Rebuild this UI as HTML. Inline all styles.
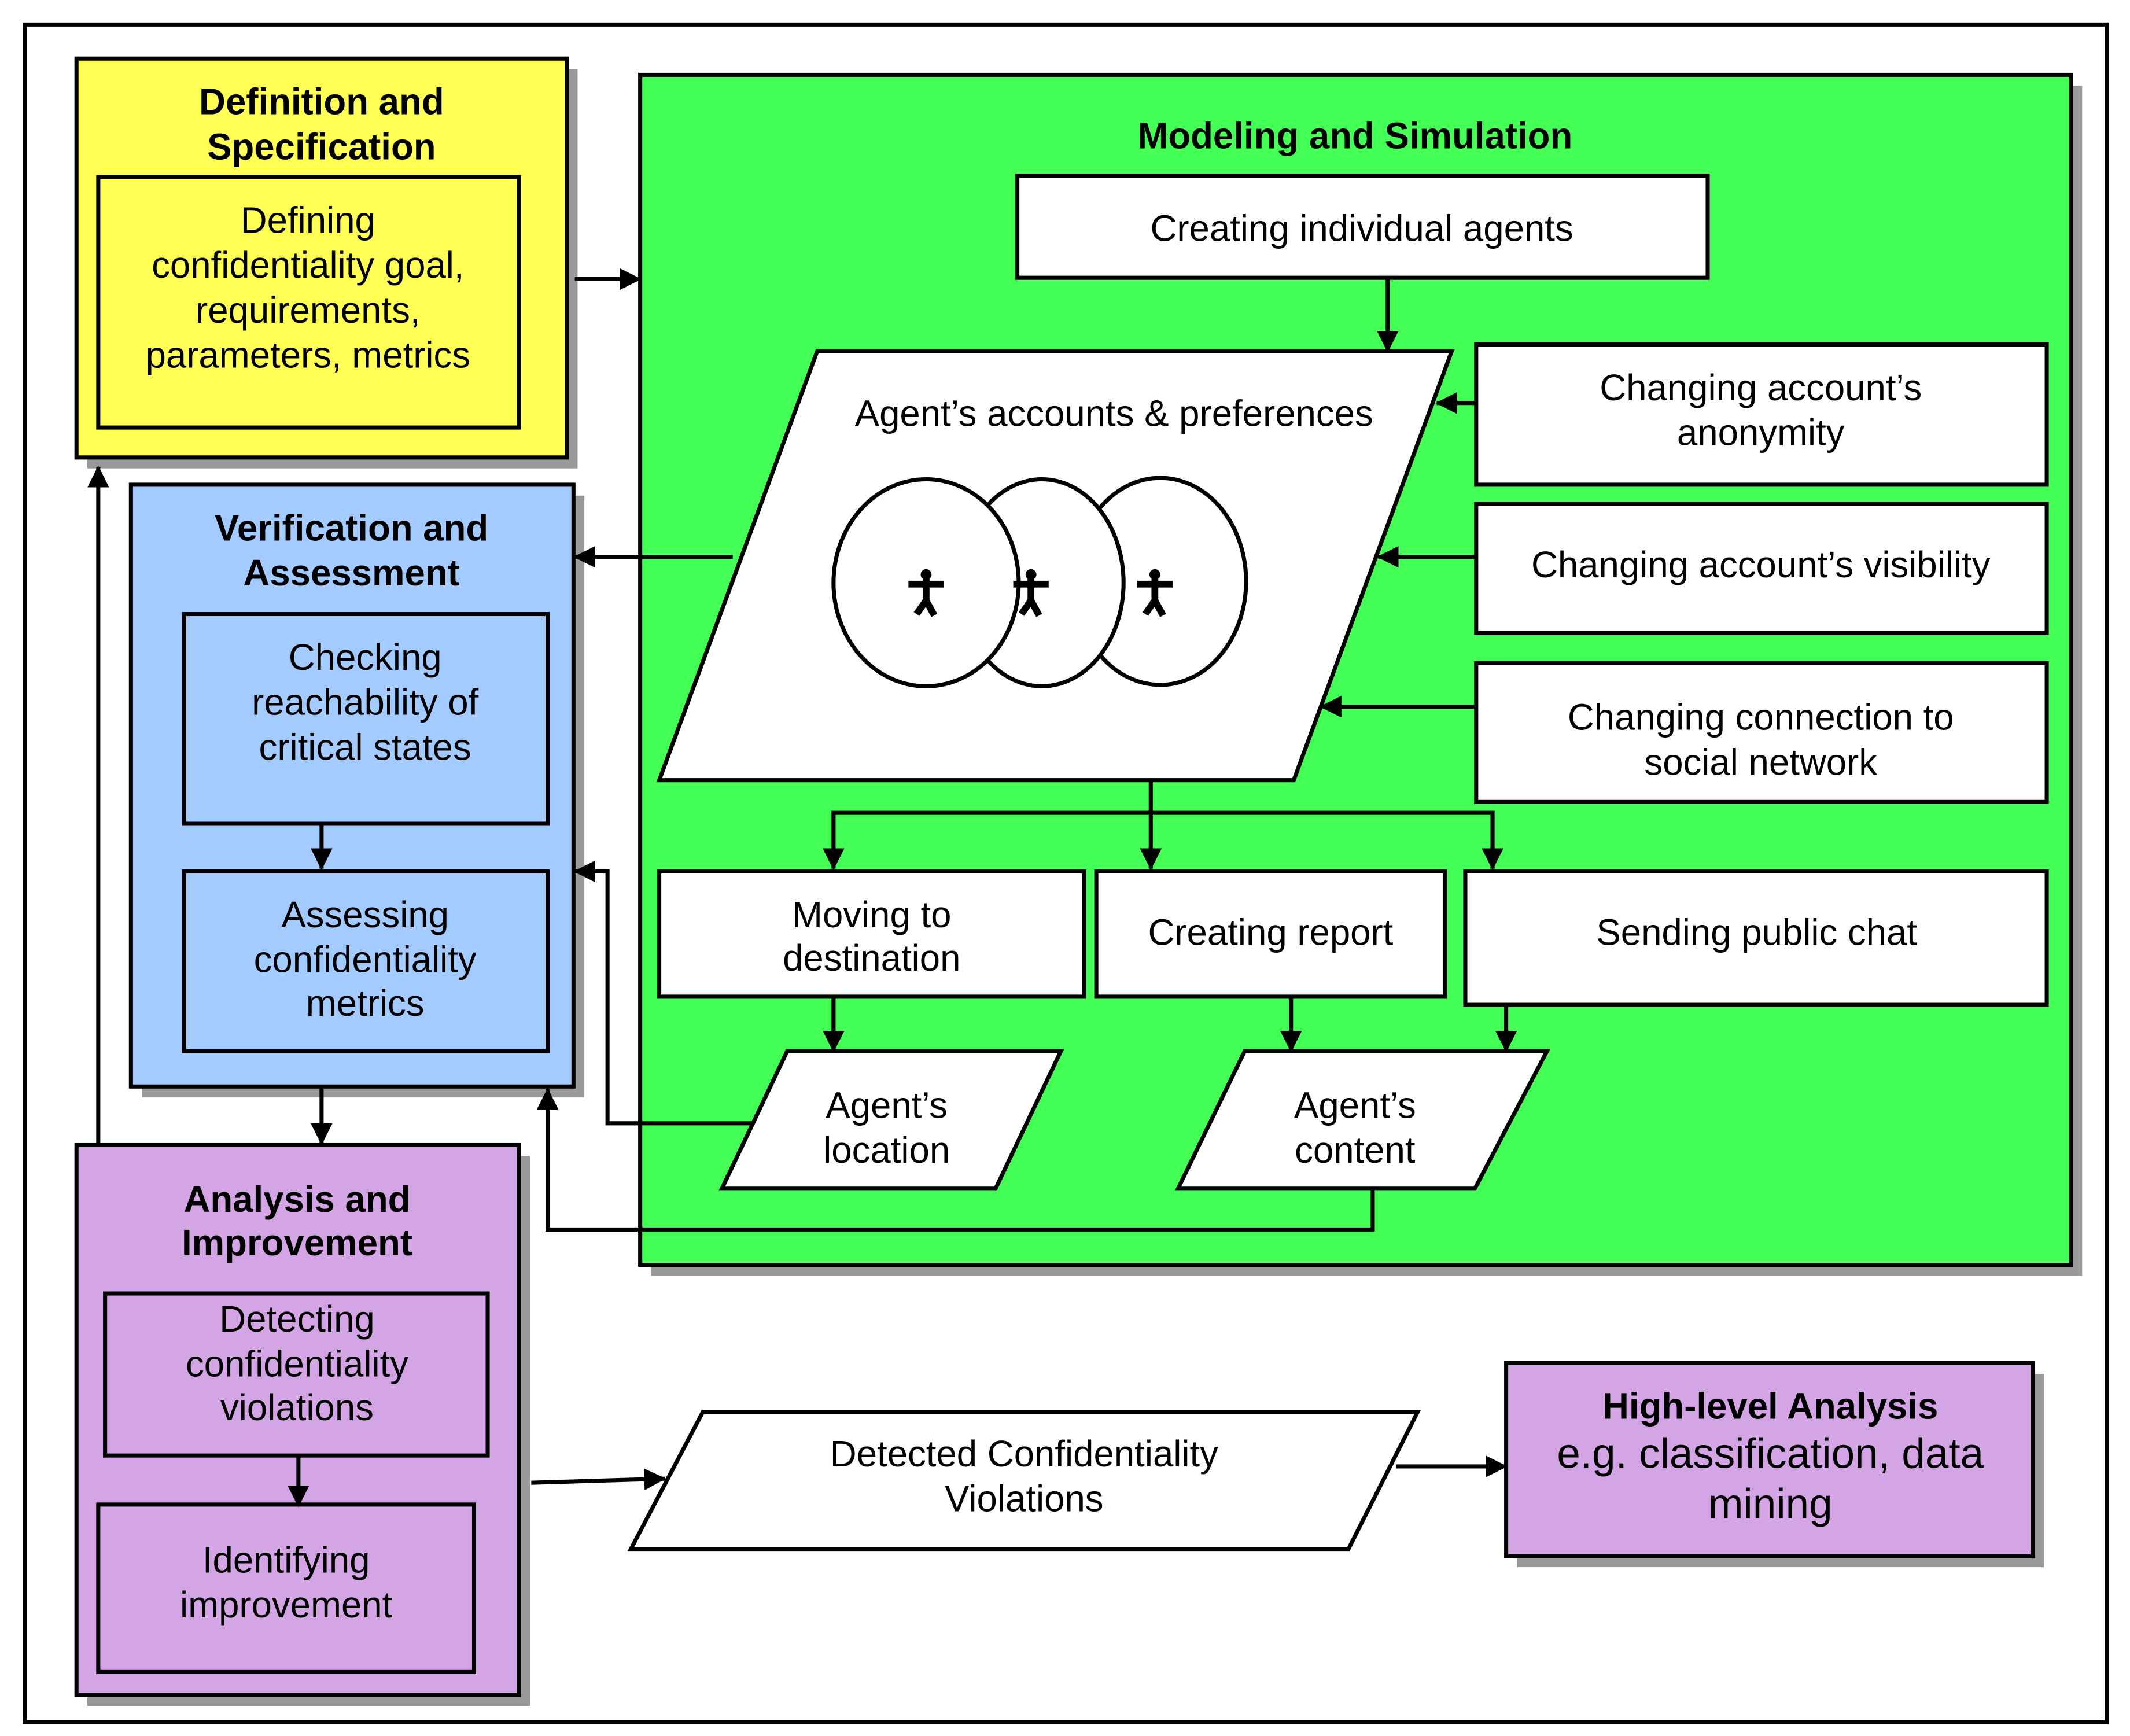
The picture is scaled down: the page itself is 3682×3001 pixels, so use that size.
<!DOCTYPE html>
<html><head><meta charset="utf-8"><style>
html,body{margin:0;padding:0;background:#fff;}
svg{display:block;}
text{font-family:"Liberation Sans",sans-serif;font-size:27px;fill:#000;text-anchor:middle;}
.b{font-weight:bold;}
</style></head><body>
<svg width="3682" height="3001" viewBox="0 0 1564 1275" xmlns="http://www.w3.org/2000/svg">
<defs>
<marker id="a" markerWidth="16" markerHeight="16" refX="15" refY="8" orient="auto" markerUnits="userSpaceOnUse" viewBox="0 0 16 16">
<path d="M0,0 L16,8 L0,16 z" fill="#000"/></marker>
<g id="p"><circle cx="0" cy="-13" r="4" fill="#000"/><path d="M-13,-6 L13,-6 M0,-10 L0,6 M0,6 L-7,16 M0,6 L6,17" stroke="#000" stroke-width="5" fill="none"/></g>
</defs>
<rect x="18" y="18" width="1529" height="1247" fill="#fff" stroke="#000" stroke-width="3"/>
<g stroke="#000" stroke-width="3">
<rect x="64" y="51" width="360" height="293" fill="#999" stroke="none"/>
<rect x="478" y="63" width="1051" height="874" fill="#999" stroke="none"/>
<rect x="104" y="364" width="325" height="442" fill="#999" stroke="none"/>
<rect x="64" y="849" width="325" height="404" fill="#999" stroke="none"/>
<rect x="1114" y="1009" width="387" height="142" fill="#999" stroke="none"/>
<rect x="56" y="43" width="360" height="293" fill="#ffff55"/>
<rect x="72" y="130" width="309" height="184" fill="#ffff55"/>
<rect x="470" y="55" width="1051" height="874" fill="#44ff55"/>
<rect x="747" y="129" width="507" height="75" fill="#fff"/>
<polygon points="600,258 1066,258 950,573 484,573" fill="#fff"/>
<rect x="1084" y="253" width="419" height="103" fill="#fff"/>
<rect x="1084" y="370" width="419" height="95" fill="#fff"/>
<rect x="1084" y="487" width="419" height="102" fill="#fff"/>
<rect x="484" y="640" width="312" height="92" fill="#fff"/>
<rect x="805" y="640" width="256" height="92" fill="#fff"/>
<rect x="1076" y="640" width="427" height="98" fill="#fff"/>
<polygon points="578,772 779,772 731,873 530,873" fill="#fff"/>
<polygon points="914,772 1136,772 1083,873 865,873" fill="#fff"/>
<ellipse cx="852" cy="427" rx="63" ry="76" fill="#fff"/>
<ellipse cx="765" cy="428" rx="60" ry="76" fill="#fff"/>
<ellipse cx="680" cy="428" rx="68" ry="76" fill="#fff"/>
<rect x="96" y="356" width="325" height="442" fill="#a3cbff"/>
<rect x="135" y="451" width="267" height="154" fill="#a3cbff"/>
<rect x="135" y="640" width="267" height="132" fill="#a3cbff"/>
<rect x="56" y="841" width="325" height="404" fill="#d4a5e4"/>
<rect x="77" y="950" width="281" height="119" fill="#d4a5e4"/>
<rect x="72" y="1105" width="276" height="123" fill="#d4a5e4"/>
<polygon points="516,1037 1041,1037 990,1138 463,1138" fill="#fff"/>
<rect x="1106" y="1001" width="387" height="142" fill="#d4a5e4"/>
</g>
<use href="#p" x="680" y="435"/><use href="#p" x="757" y="435"/><use href="#p" x="848" y="435"/>
<g stroke="#000" stroke-width="3" fill="none" marker-end="url(#a)">
<path d="M422,205 H470"/>
<path d="M1019,204 V258"/>
<path d="M1084,296 H1055"/>
<path d="M1084,409 H1012"/>
<path d="M1084,519 H970"/>
<path d="M538,409 H422"/>
<path d="M845,573 V638"/>
<path d="M845,597 H612 V638"/>
<path d="M845,597 H1096 V638"/>
<path d="M612,732 V772"/>
<path d="M948,732 V772"/>
<path d="M1106,738 V772"/>
<path d="M553,825 H446 V640 H422"/>
<path d="M1008,873 V903 H402 V800"/>
<path d="M236,605 V638"/>
<path d="M236,798 V840"/>
<path d="M219,1069 V1106"/>
<path d="M72,841 V343"/>
<path d="M390,1089 L488,1086"/>
<path d="M1025,1077 H1106"/>
</g>
<text class="b" x="236" y="84">Definition and</text>
<text class="b" x="236" y="117">Specification</text>
<text x="226" y="171">Defining</text>
<text x="226" y="204">confidentiality goal,</text>
<text x="226" y="237">requirements,</text>
<text x="226" y="270">parameters, metrics</text>
<text class="b" x="995" y="109">Modeling and Simulation</text>
<text x="1000" y="177">Creating individual agents</text>
<text x="818" y="313">Agent’s accounts &amp; preferences</text>
<text x="1293" y="294">Changing account’s</text>
<text x="1293" y="327">anonymity</text>
<text x="1293" y="424">Changing account’s visibility</text>
<text x="1293" y="536">Changing connection to</text>
<text x="1293" y="569">social network</text>
<text x="640" y="681">Moving to</text>
<text x="640" y="713">destination</text>
<text x="933" y="694">Creating report</text>
<text x="1290" y="694">Sending public chat</text>
<text x="651" y="821">Agent’s</text>
<text x="651" y="854">location</text>
<text x="995" y="821">Agent’s</text>
<text x="995" y="854">content</text>
<text class="b" x="258" y="397">Verification and</text>
<text class="b" x="258" y="430">Assessment</text>
<text x="268" y="492">Checking</text>
<text x="268" y="525">reachability of</text>
<text x="268" y="558">critical states</text>
<text x="268" y="681">Assessing</text>
<text x="268" y="714">confidentiality</text>
<text x="268" y="746">metrics</text>
<text class="b" x="218" y="890">Analysis and</text>
<text class="b" x="218" y="922">Improvement</text>
<text x="218" y="978">Detecting</text>
<text x="218" y="1011">confidentiality</text>
<text x="218" y="1043">violations</text>
<text x="210" y="1155">Identifying</text>
<text x="210" y="1188">improvement</text>
<text x="752" y="1077">Detected Confidentiality</text>
<text x="752" y="1110">Violations</text>
<text class="b" x="1300" y="1042">High-level Analysis</text>
<text x="1300" y="1078" style="font-size:31px">e.g. classification, data</text>
<text x="1300" y="1115" style="font-size:31px">mining</text>
</svg>
</body></html>
